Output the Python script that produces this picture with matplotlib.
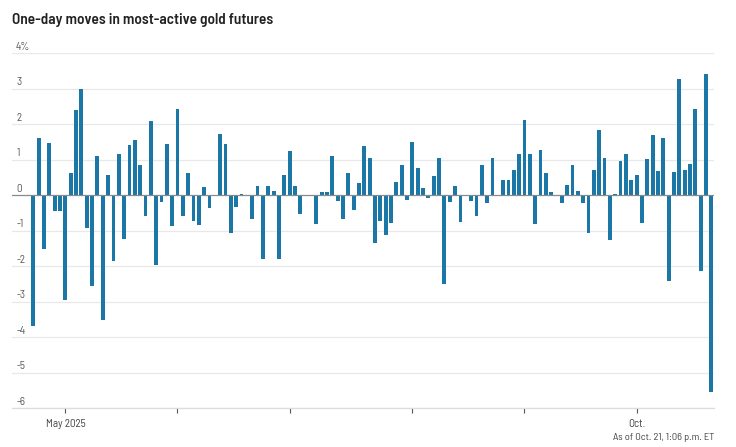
import matplotlib
matplotlib.use("Agg")
import matplotlib.pyplot as plt
import numpy as np
import pandas as pd

plt.rcParams['font.family'] = ['Barlow Semi Condensed', 'DejaVu Sans']

# jornadas de negociacion (sin Memorial Day ni Labor Day)
feriados = ['2025-05-26', '2025-09-01']
fechas = pd.bdate_range('2025-04-23', '2025-10-21', freq='C', holidays=feriados)

# variacion diaria en %
movimientos = [
    -3.67, 1.62, -1.51, 1.47, -0.45, -0.45, -2.94, 0.63, 2.40, 2.99,
    -0.93, -2.56, 1.11, -3.50, 0.57, -1.85, 1.16, -1.24, 1.42, 1.55,
    0.84, -0.57, 2.10, -1.97, -0.20, 1.45, -0.87, 2.43, -0.59, 0.62,
    -0.72, -0.85, 0.23, -0.37, 0.0, 1.73, 1.45, -1.05, -0.32, 0.03,
    0.0, -0.67, 0.25, -1.80, 0.25, 0.12, -1.80, 0.57, 1.24, 0.25,
    -0.52, 0.0, 0.0, -0.80, 0.09, 0.09, 1.11, -0.17, -0.67, 0.63,
    -0.41, 0.35, 1.40, 1.06, -1.34, -0.72, -1.13, -0.78, 0.38, 0.84,
    -0.13, 1.49, 0.76, 0.21, -0.07, 0.55, 1.06, -2.50, -0.20, 0.25,
    -0.75, -0.03, -0.16, -0.59, 0.85, -0.22, 1.06, -0.02, 0.43, 0.43,
    0.70, 1.16, 2.13, 1.16, -0.80, 1.27, 0.63, 0.10, 0.0, -0.23,
    0.30, 0.86, 0.12, -0.22, -1.07, 0.70, 1.83, 1.04, -1.26, 0.05,
    0.97, 1.16, 0.42, 0.58, -0.78, 1.01, 1.70, 0.69, 1.62, -2.42,
    0.67, 3.27, 0.70, 0.89, 2.42, -2.14, 3.43, -5.54,
]

yticks = [4, 3, 2, 1, 0, -1, -2, -3, -4, -5, -6]
ylabels = ['4%', '3', '2', '1', '0', '-1', '-2', '-3', '-4', '-5', '-6']

x = np.arange(len(fechas))
meses = fechas.to_period('M')
idx_mes = [i for i in range(1, len(fechas)) if meses[i] != meses[i - 1]]
etiquetas_mes = {'2025-05': 'May 2025', '2025-10': 'Oct.'}

fig = plt.figure(figsize=(7.36, 4.47), dpi=100)
ax = fig.add_axes([12 / 736, 1 - 408.3 / 447, 702 / 736, 355 / 447])

for y in yticks:
    if y == 0:
        continue
    ax.axhline(y, color='#e8e8e8', lw=0.9, zorder=0)

ax.bar(x, movimientos, width=0.72, color='#1a77a6', zorder=2)
ax.axhline(0, color='#8a8a8a', lw=0.9, zorder=3)

ax.set_ylim(-6, 4)
ax.set_xlim(-4, 127.5)
ax.set_yticks([])
for s in ['top', 'right', 'left']:
    ax.spines[s].set_visible(False)
ax.spines['bottom'].set_color('#dcdcdc')
ax.spines['bottom'].set_linewidth(0.9)

for y, lab in zip(yticks, ylabels):
    ax.annotate(lab, xy=(0, y), xycoords=('axes fraction', 'data'),
                xytext=(3, 1), textcoords='offset points',
                ha='left', va='bottom', fontsize=8, color='#5a5a5a')

ax.set_xticks(idx_mes)
ax.set_xticklabels([etiquetas_mes.get(str(meses[i]), '') for i in idx_mes])
ax.tick_params(axis='x', length=3.5, width=0.8, color='#555555',
               labelsize=8, labelcolor='#444444', pad=4)

fig.text(12 / 736, 1 - 20 / 447, 'One-day moves in most-active gold futures',
         fontsize=11, fontweight=600, color='#222222', va='center')
fig.text(714 / 736, 1 - 437 / 447, 'As of Oct. 21, 1:06 p.m. ET',
         fontsize=7.5, color='#444444', ha='right', va='center')

fig.savefig('out.png', dpi=100)
